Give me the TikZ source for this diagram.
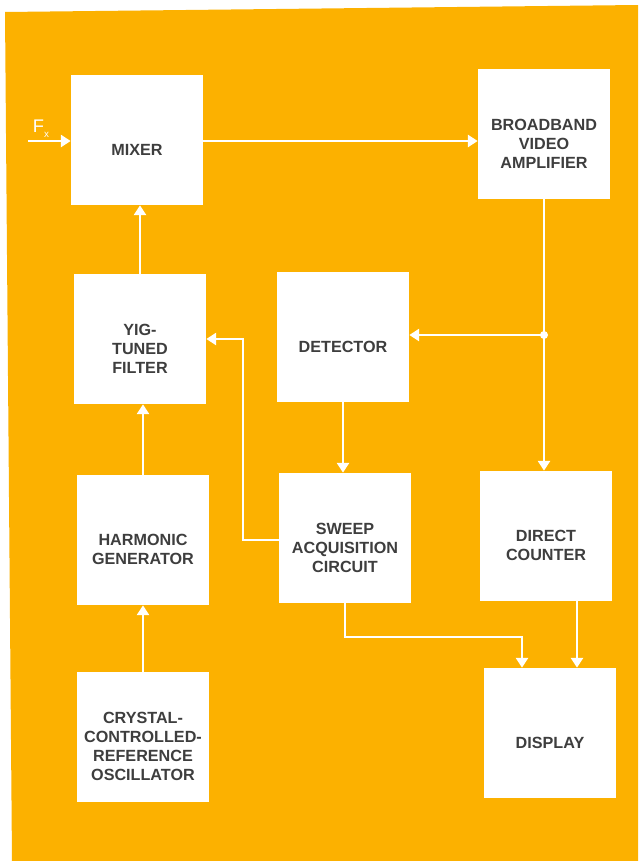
\documentclass[tikz,border=0pt]{standalone}
\usepackage{fontspec}
\setmainfont{Liberation Sans}
\usepackage{tikz}
\usetikzlibrary{positioning,calc,arrows.meta}
\usepackage{xcolor}
\definecolor{panel}{RGB}{252,177,0}
\definecolor{ink}{RGB}{62,62,62}

\begin{document}
\begin{tikzpicture}[x=0.025cm,y=-0.025cm,
    txt/.style={align=center,text=ink,font=\fontsize{11.5}{13.5}\selectfont\bfseries},
    blk/.style={rectangle,fill=white,minimum width=3.3cm,minimum height=3.25cm,
      label={[txt,yshift=-7pt]center:#1}},
    wire/.style={draw=white,line width=1.8pt},
    sig/.style={wire,-{Triangle[length=7pt,width=8.5pt]}}]

\useasboundingbox (0,0) rectangle (638,861);
\fill[white] (0,0) rectangle (638,861);
\fill[panel] (5,12) -- (638,5) -- (638,861) -- (12,861) -- cycle;

\node[blk={MIXER}] (mix) at (137,140) {};
\node[blk={BROADBAND\\VIDEO\\AMPLIFIER}] (bva) at (544,134) {};
\node[blk={YIG-\\TUNED\\FILTER}] (yig) at (140,339) {};
\node[blk={DETECTOR}] (det) at (343,337) {};
\node[blk={HARMONIC\\GENERATOR}] (harm) at (143,540) {};
\node[blk={SWEEP\\ACQUISITION\\CIRCUIT}] (sweep) at (345,538) {};
\node[blk={DIRECT\\COUNTER}] (dc) at (546,536) {};
\node[blk={CRYSTAL-\\CONTROLLED-\\REFERENCE\\OSCILLATOR}] (osc) at (143,737) {};
\node[blk={DISPLAY}] (disp) at (550,733) {};

\coordinate (fxin) at (28,141);
\node[text=white,font=\fontsize{13}{13}\selectfont,above right=1 and 0 of fxin] (fx) {F\raisebox{-0.5ex}{\scriptsize x}};
\coordinate (tap) at (544,335);
\coordinate (bend) at (243,540);
\coordinate (dl) at (522,637);
\coordinate (dr) at (577,620);

\draw[sig] (fxin) -- (fxin -| mix.west);
\draw[sig] (mix.east |- fxin) -- (fxin -| bva.west);
\draw[sig] (bva.south) -- (tap |- dc.north);
\fill[white] (tap) circle (4);
\draw[sig] (tap) -- (tap -| det.east);
\draw[sig] (yig.north) -- (yig.north |- mix.south);
\draw[sig] (harm.north) -- (harm.north |- yig.south);
\draw[sig] (osc.north) -- (osc.north |- harm.south);
\draw[sig] (det.south) -- (det.south |- sweep.north);
\draw[sig] (sweep.west |- bend) -- (bend) |- (yig.east);
\draw[sig] (sweep.south) |- (dl) -- (dl |- disp.north);
\draw[sig] (dr |- dc.south) -- (dr |- disp.north);

\end{tikzpicture}
\end{document}
